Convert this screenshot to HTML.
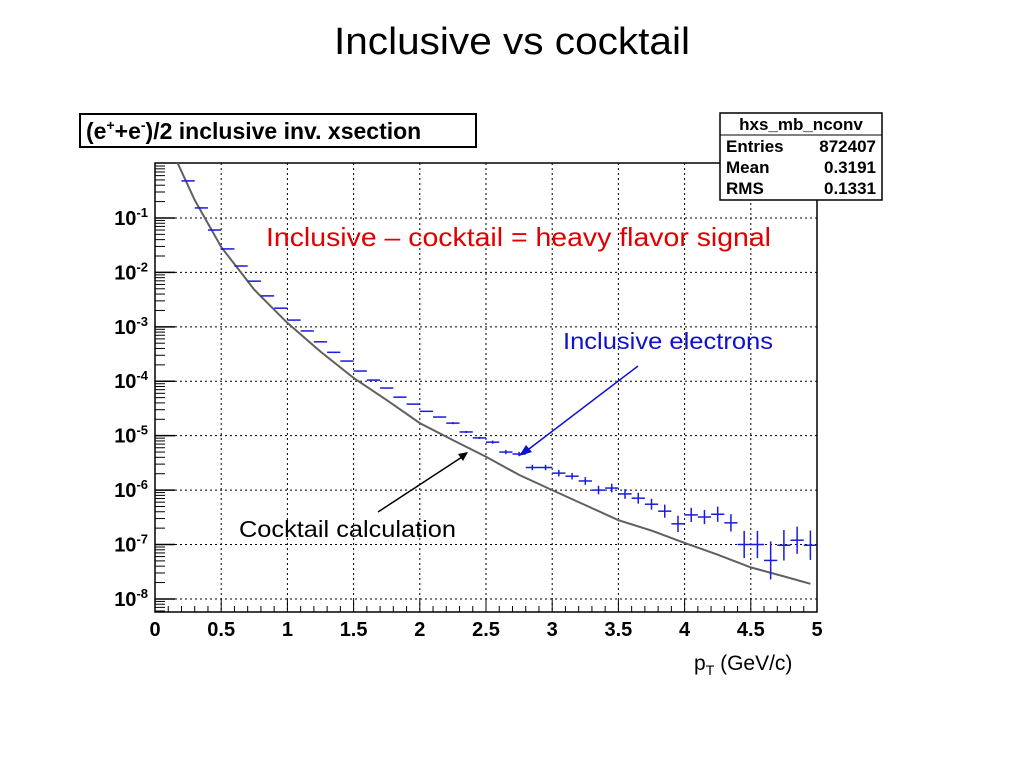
<!DOCTYPE html>
<html><head><meta charset="utf-8"><style>
body{margin:0;background:#fff;width:1024px;height:768px;overflow:hidden}
svg{display:block}
</style></head><body>
<svg id="chart" width="1024" height="768" xmlns="http://www.w3.org/2000/svg">
<text x="334" y="54" textLength="356" lengthAdjust="spacingAndGlyphs" font-family="Liberation Sans, sans-serif" font-size="38">Inclusive vs cocktail</text>
<g id="grid"></g>
<g id="axes"></g>
<g id="cocktail"></g>
<g id="incl"></g>
<rect x="80" y="114" width="396" height="33" fill="#fff" stroke="#000" stroke-width="2"/>
<text x="86" y="139" font-family="Liberation Sans, sans-serif" font-size="23" font-weight="bold">(e<tspan dy="-9" font-size="14">+</tspan><tspan dy="9">+e</tspan><tspan dy="-9" font-size="14">-</tspan><tspan dy="9">)/2 inclusive inv. xsection</tspan></text>
<g font-family="Liberation Sans, sans-serif" font-size="17" font-weight="bold">
<rect x="720" y="113" width="162" height="87" fill="#fff" stroke="#000" stroke-width="1.5"/>
<line x1="720" y1="135" x2="882" y2="135" stroke="#000"/>
<text x="801" y="130" text-anchor="middle">hxs_mb_nconv</text>
<text x="726" y="152">Entries</text><text x="876" y="152" text-anchor="end">872407</text>
<text x="726" y="173">Mean</text><text x="876" y="173" text-anchor="end">0.3191</text>
<text x="726" y="194">RMS</text><text x="876" y="194" text-anchor="end">0.1331</text>
</g>
<text x="266" y="246" textLength="505" lengthAdjust="spacingAndGlyphs" font-family="Liberation Sans, sans-serif" font-size="26" fill="#e00000">Inclusive – cocktail = heavy flavor signal</text>
<text x="563" y="349" textLength="210" lengthAdjust="spacingAndGlyphs" font-family="Liberation Sans, sans-serif" font-size="23" fill="#1010d0">Inclusive electrons</text>
<line x1="638" y1="366" x2="525" y2="452" stroke="#1010d0" stroke-width="1.5"/>
<polygon points="519,456 526,445 532,452" fill="#1010d0"/>
<text x="239" y="537" textLength="217" lengthAdjust="spacingAndGlyphs" font-family="Liberation Sans, sans-serif" font-size="23" fill="#000">Cocktail calculation</text>
<line x1="378" y1="512" x2="462" y2="457" stroke="#000" stroke-width="1.5"/>
<polygon points="468,452 458,454 463,461" fill="#000"/>
<text x="694" y="670" font-family="Liberation Sans, sans-serif" font-size="21">p<tspan font-size="14" dy="5">T</tspan><tspan dy="-5"> (GeV/c)</tspan></text>
</svg>
<script>
const inclX=[0.25,0.35,0.45,0.55,0.65,0.75,0.85,0.95,1.05,1.15,1.25,1.35,1.45,1.55,1.65,1.75,1.85,1.95,2.05,2.15,2.25,2.35,2.45,2.55,2.65,2.75,2.85,2.95,3.05,3.15,3.25,3.35,3.45,3.55,3.65,3.75,3.85,3.95,4.05,4.15,4.25,4.35,4.45,4.55,4.65,4.75,4.85,4.95];
const inclY=[0.48,0.153,0.060,0.027,0.0131,0.0069,0.0037,0.0022,1.33e-3,8.4e-4,5.3e-4,3.4e-4,2.35e-4,1.54e-4,1.05e-4,7.5e-5,5.1e-5,3.8e-5,2.8e-5,2.2e-5,1.7e-5,1.17e-5,9.1e-6,7.6e-6,5.0e-6,4.6e-6,2.6e-6,2.6e-6,2.05e-6,1.8e-6,1.47e-6,1.0e-6,1.09e-6,8.5e-7,7.1e-7,5.5e-7,4.1e-7,2.4e-7,3.5e-7,3.2e-7,3.6e-7,2.5e-7,1.0e-7,1.0e-7,5.1e-8,9.7e-8,1.2e-7,9.7e-8];
const inclErr=[0.01,0.01,0.01,0.01,0.01,0.01,0.01,0.01,0.01,0.01,0.01,0.01,0.01,0.01,0.01,0.01,0.01,0.01,0.01,0.01,0.02,0.02,0.02,0.03,0.04,0.04,0.05,0.05,0.06,0.06,0.07,0.08,0.08,0.09,0.1,0.1,0.12,0.15,0.13,0.13,0.14,0.16,0.25,0.25,0.35,0.28,0.25,0.27];
const cockX=[0.17,0.3,0.5,0.75,1.0,1.25,1.5,1.75,2.0,2.25,2.5,2.75,3.0,3.25,3.5,3.75,4.0,4.25,4.5,4.75,4.95];
const cockY=[1.03,0.214,0.0293,4.8e-3,1.18e-3,3.5e-4,1.15e-4,4.5e-5,1.7e-5,8.3e-6,4.1e-6,1.9e-6,1.0e-6,5.3e-7,2.8e-7,1.8e-7,1.07e-7,6.5e-8,3.8e-8,2.6e-8,1.9e-8];
const xTicks=["0","0.5","1","1.5","2","2.5","3","3.5","4","4.5","5"];
const yDecades=[-1,-2,-3,-4,-5,-6,-7,-8];

const L=155,R=817,T=163,B=612,LMAX=0.01,LMIN=-8.24;
const NS="http://www.w3.org/2000/svg";
function sx(v){return L+(v/5)*(R-L);}
function sy(v){return T+(LMAX-Math.log10(v))/(LMAX-LMIN)*(B-T);}
function mk(tag,attrs,parent){const e=document.createElementNS(NS,tag);for(const k in attrs)e.setAttribute(k,attrs[k]);parent.appendChild(e);return e;}
const grid=document.getElementById('grid'),axes=document.getElementById('axes');
mk('rect',{x:L,y:T,width:R-L,height:B-T,fill:'none',stroke:'#000','stroke-width':1.5},axes);
xTicks.forEach((t,i)=>{const v=parseFloat(t);const x=sx(v);
 if(i>0&&i<xTicks.length-1){const g=mk('line',{x1:x,y1:T,x2:x,y2:B,stroke:'#000','stroke-dasharray':'2,3'},grid);
 
 }
 const tx=mk('text',{x:x,y:B+24,'text-anchor':'middle','font-family':'Liberation Sans, sans-serif','font-size':20,'font-weight':'bold'},axes);
 tx.textContent=t;
 
 
});
for(let k=0;k<=50;k++){const x=sx(k*0.1);mk('line',{x1:x,y1:B,x2:x,y2:B-(k%5==0?12:6),stroke:'#000'},axes);}
yDecades.forEach(d=>{const y=sy(Math.pow(10,d));
 const g=mk('line',{x1:L,y1:y,x2:R,y2:y,stroke:'#000','stroke-dasharray':'2,3'},grid);
 
 
 mk('line',{x1:L,y1:y,x2:L+20,y2:y,stroke:'#000','stroke-width':1.5},axes);
 const tx=mk('text',{x:L-7,y:y+7,'text-anchor':'end','font-family':'Liberation Sans, sans-serif','font-size':20,'font-weight':'bold'},axes);
 tx.innerHTML='10<tspan dy="-8" font-size="13">'+d+'</tspan>';
 
 
});
for(let d=-9;d<=0;d++){for(let m=2;m<=9;m++){const v=m*Math.pow(10,d);const l=Math.log10(v);if(l>LMAX||l<LMIN)continue;const y=sy(v);mk('line',{x1:L,y1:y,x2:L+10,y2:y,stroke:'#000'},axes);}}
const cg=document.getElementById('cocktail');
const pts=cockX.map((x,i)=>sx(x).toFixed(1)+','+sy(cockY[i]).toFixed(1)).join(' ');
const pl=mk('polyline',{points:pts,fill:'none',stroke:'#606060','stroke-width':2},cg);


const ig=document.getElementById('incl');
inclX.forEach((x,i)=>{const cx=sx(x),cy=sy(inclY[i]);
 const g=mk('g',{},ig);
 
 
 mk('line',{x1:sx(x-0.05),y1:cy,x2:sx(x+0.05),y2:cy,stroke:'#1a1ae0','stroke-width':1.5},g);
 const e=inclErr[i];
 mk('line',{x1:cx,y1:sy(inclY[i]*Math.pow(10,e)),x2:cx,y2:sy(inclY[i]/Math.pow(10,e)),stroke:'#1a1ae0','stroke-width':1.5},g);
});
</script>
</body></html>
